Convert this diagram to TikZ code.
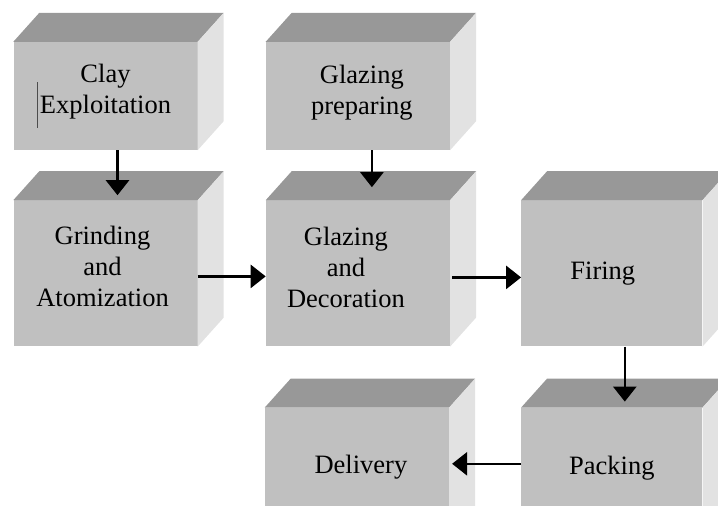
\documentclass[tikz,border=0pt]{standalone}
\usepackage{fontspec}
\setmainfont{Liberation Serif}
\usetikzlibrary{positioning,arrows.meta}

\definecolor{frontgray}{HTML}{C0C0C0}
\definecolor{topgray}{HTML}{989898}
\definecolor{sidegray}{HTML}{E2E2E2}

\tikzset{
  box/.style={fill=frontgray, minimum width=184pt, minimum height=146pt, inner sep=0pt},
  flat box/.style={box, minimum height=108pt},
  box text/.style={align=center, font=\fontsize{26.5}{31}\selectfont, inner sep=0pt},
  flow/.style={line width=2.6pt, -{Triangle[width=23pt,length=15pt]}}
}

\begin{document}
\begin{tikzpicture}[x=1pt,y=-1pt,node distance=50pt and 68pt]
  \useasboundingbox (0,0) rectangle (718,506);
  \clip (0,0) rectangle (718,506);

  % front faces of the blocks
  \node[flat box] (clay) at (105.5,96) {};
  \node[flat box] (glazprep) [right=of clay] {};
  \node[box] (grind) [below=of clay] {};
  \node[box] (glaze) [below=of glazprep] {};
  \node[box, minimum width=181pt] (firing) [right=71pt of glaze] {};
  \node[box, minimum width=181pt] (packing) [below=61pt of firing] {};
  \node[box] (delivery) [left=72pt of packing] {};

  % top and side faces
  \foreach \b in {clay,glazprep,grind,glaze,firing,packing,delivery}{
    \fill[topgray] (\b.north west) -- ++(26,-29) -- ([shift={(26,-29)}]\b.north east) -- (\b.north east) -- cycle;
    \fill[sidegray] (\b.north east) -- ++(26,-29) -- ([shift={(26,-29)}]\b.south east) -- (\b.south east) -- cycle;
  }

  % labels
  \node[box text] (clay-t) at ([yshift=4]clay.center) {Clay\\Exploitation};
  \node[box text] (glazprep-t) at ([xshift=4,yshift=3]glazprep.center) {Glazing\\preparing};
  \node[box text] (grind-t) at ([xshift=-3,yshift=7]grind.center) {Grinding\\and\\Atomization};
  \node[box text] (glaze-t) at ([xshift=-12,yshift=6]glaze.center) {Glazing\\and\\Decoration};
  \node[box text] (firing-t) at ([xshift=-9]firing.center) {Firing};
  \node[box text] (packing-t) at ([yshift=13]packing.center) {Packing};
  \node[box text] (delivery-t) at ([xshift=4,yshift=14]delivery.center) {Delivery};
  \draw[gray!60!black, line width=0.8pt] (37,82) -- (37,128);

  % flow
  \draw[flow] ([xshift=12]clay.south) -- ([xshift=12,yshift=5]grind.north);
  \draw[flow] ([xshift=14]glazprep.south) -- ([xshift=14,yshift=13]glaze.north);
  \draw[flow] ([yshift=-3]grind.east) -- ([yshift=-3]glaze.west);
  \draw[flow] ([xshift=2,yshift=-4]glaze.east) -- ([yshift=-4]firing.west);
  \draw[flow] ([xshift=13]firing.south) -- ([xshift=13,yshift=6]packing.north);
  \draw[flow] ([yshift=17]packing.west) -- ([xshift=3,yshift=17]packing.west -| delivery.east);
\end{tikzpicture}
\end{document}
